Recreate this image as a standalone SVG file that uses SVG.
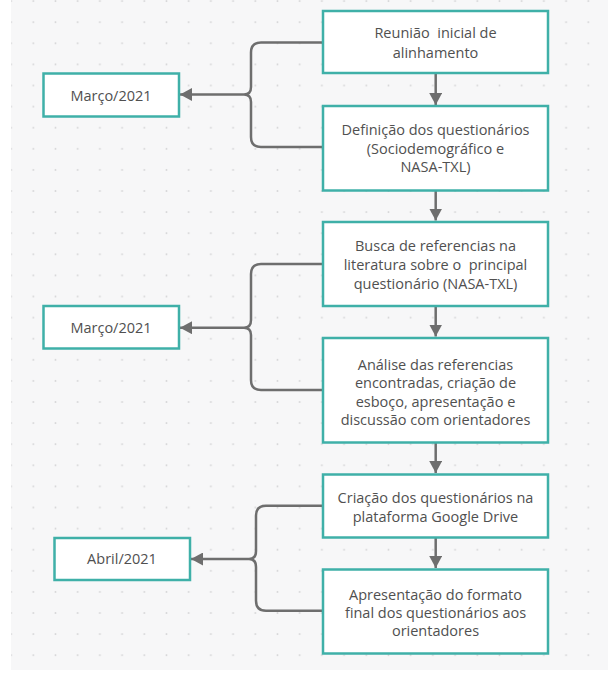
<svg xmlns="http://www.w3.org/2000/svg" width="608" height="675" viewBox="0 0 608 675">
<style>
.bg{fill:#f7f7f8}
.node rect{fill:#ffffff;stroke:#3fb0a8;stroke-width:2.5}
.node text{font-family:"Open Sans","Noto Sans","Liberation Sans",sans-serif;font-size:14.5px;fill:#505050;text-anchor:middle;white-space:pre}
.conn path{fill:none;stroke:#6e6e6e;stroke-width:2.5}
</style>
<defs>
<pattern id="dots" x="0" y="1.1" width="22.2" height="21.1" patternUnits="userSpaceOnUse">
<circle cx="11.1" cy="0" r="1" fill="#d6d6d8"/>
<circle cx="11.1" cy="21.1" r="1" fill="#d6d6d8"/>
</pattern>
<marker id="ah" viewBox="0 0 12 13" refX="12" refY="6.5" markerWidth="12" markerHeight="13" markerUnits="userSpaceOnUse" orient="auto">
<path d="M0,0 L12,6.5 L0,13 z" fill="#6e6e6e"/>
</marker>
</defs>
<rect x="0" y="0" width="608" height="675" fill="#ffffff"/>
<rect class="bg" x="11" y="0" width="597" height="670"/>
<rect x="11" y="0" width="597" height="670" fill="url(#dots)"/>

<g class="conn" id="connectors">
<path d="M323,42.5 H261 Q251,42.5 251,52.5 V87 Q251,94.5 244,94.5 Q251,94.5 251,102 V137 Q251,147 261,147 H323"/>
<path d="M244,94.5 H180" marker-end="url(#ah)"/>
<path d="M323,264 H261 Q251,264 251,274 V320 Q251,327.7 244,327.7 Q251,327.7 251,335 V380 Q251,390 261,390 H323"/>
<path d="M244,327.7 H180" marker-end="url(#ah)"/>
<path d="M323,505.7 H266 Q256,505.7 256,515.7 V551 Q256,559 249,559 Q256,559 256,567 V600.7 Q256,610.7 266,610.7 H323"/>
<path d="M249,559 H191" marker-end="url(#ah)"/>
<path d="M435.7,73 V105" marker-end="url(#ah)"/>
<path d="M435.7,191 V220.5" marker-end="url(#ah)"/>
<path d="M435.7,306 V336.5" marker-end="url(#ah)"/>
<path d="M435.7,443 V473" marker-end="url(#ah)"/>
<path d="M435.7,538 V568" marker-end="url(#ah)"/>
</g>

<g class="node" id="n1">
<rect x="323" y="11" width="225" height="62"/>
<text x="435.5" y="38" xml:space="preserve">Reunião  inicial de</text>
<text x="435.5" y="58">alinhamento</text>
</g>
<g class="node" id="n2">
<rect x="323" y="106" width="225" height="84.5"/>
<text x="435.5" y="135">Definição dos questionários</text>
<text x="435.5" y="153.5">(Sociodemográfico e</text>
<text x="435.5" y="172">NASA-TXL)</text>
</g>
<g class="node" id="n3">
<rect x="323" y="222" width="225" height="84"/>
<text x="435.5" y="251">Busca de referencias na</text>
<text x="435.5" y="270" xml:space="preserve">literatura sobre o  principal</text>
<text x="435.5" y="289">questionário (NASA-TXL)</text>
</g>
<g class="node" id="n4">
<rect x="323" y="338" width="225" height="104.5"/>
<text x="435.5" y="369.5">Análise das referencias</text>
<text x="435.5" y="388">encontradas, criação de</text>
<text x="435.5" y="407">esboço, apresentação e</text>
<text x="435.5" y="425">discussão com orientadores</text>
</g>
<g class="node" id="n5">
<rect x="323" y="474.5" width="225" height="63"/>
<text x="435.5" y="502.5">Criação dos questionários na</text>
<text x="435.5" y="522">plataforma Google Drive</text>
</g>
<g class="node" id="n6">
<rect x="323" y="569.5" width="225" height="84"/>
<text x="435.5" y="599.5">Apresentação do formato</text>
<text x="435.5" y="618">final dos questionários aos</text>
<text x="435.5" y="636">orientadores</text>
</g>
<g class="node" id="m1">
<rect x="43.5" y="73.5" width="135.5" height="43"/>
<text x="111" y="100.5">Março/2021</text>
</g>
<g class="node" id="m2">
<rect x="43.5" y="306" width="135.5" height="42.5"/>
<text x="111" y="332.5">Março/2021</text>
</g>
<g class="node" id="m3">
<rect x="54.5" y="538" width="135.5" height="42"/>
<text x="122" y="564">Abril/2021</text>
</g>
</svg>
